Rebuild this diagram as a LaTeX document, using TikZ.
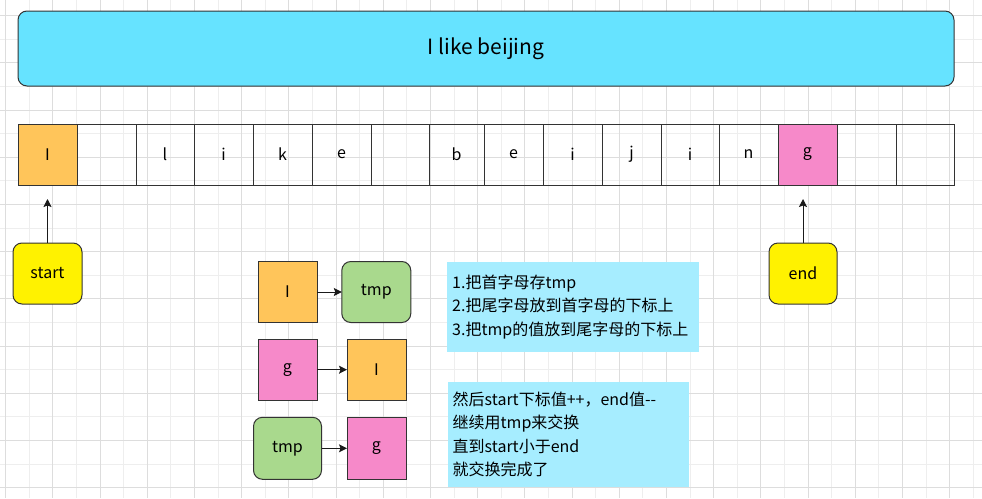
\documentclass[tikz,border=0pt]{standalone}
\usepackage{fontspec}
\setmainfont{Noto Sans CJK SC}
\usetikzlibrary{arrows.meta}

\definecolor{gridlight}{RGB}{238,238,238}
\definecolor{griddark}{RGB}{221,221,221}
\definecolor{linegray}{RGB}{51,51,51}
\definecolor{arrowdark}{RGB}{26,26,26}
\definecolor{bannerblue}{RGB}{102,227,255}
\definecolor{letterorange}{RGB}{255,197,90}
\definecolor{letterpink}{RGB}{246,137,201}
\definecolor{tmpgreen}{RGB}{169,217,141}
\definecolor{notecyan}{RGB}{166,237,255}

\begin{document}
\begin{tikzpicture}[x=1pt, y=-1pt,
  cell/.style={draw=linegray, line width=1pt, minimum width=59pt,
    minimum height=61pt, inner sep=0pt, outer sep=0pt,
    font=\fontsize{16}{20}\selectfont},
  rbox/.style={cell, rounded corners=9pt},
  notebox/.style={fill=notecyan, inner xsep=5pt, inner ysep=0pt,
    align=left, anchor=north west, font=\fontsize{16}{23.6}\selectfont},
  ptr/.style={draw=arrowdark, line width=1pt,
    -{Stealth[length=8pt,width=8pt,inset=1.5pt]}}]
\useasboundingbox (0,0) rectangle (982,498);
\fill[white] (0,0) rectangle (982,498);
% background grid
\foreach \i in {1,3,...,41}
  \draw[gridlight, line width=1pt] ({5.7+23.6*\i},0) -- ({5.7+23.6*\i},498);
\foreach \j in {1,3,...,19}
  \draw[gridlight, line width=1pt] (0,{15.6+23.6*\j}) -- (982,{15.6+23.6*\j});
\foreach \i in {0,2,...,40}
  \draw[griddark, line width=1pt] ({5.7+23.6*\i},0) -- ({5.7+23.6*\i},498);
\foreach \j in {0,2,...,20}
  \draw[griddark, line width=1pt] (0,{15.6+23.6*\j}) -- (982,{15.6+23.6*\j});

% sentence
\node[rbox, fill=bannerblue, minimum width=936pt, minimum height=75pt,
  font=\fontsize{21}{25}\selectfont] (banner) at (486,48.5) {I like beijing};

% the array
\node[cell, fill=letterorange] (c1) at (47.5,154.5) {I};
\node[cell] (c2) at (106.5,154.5) {};
\node[cell, minimum width=58pt] (c3) at (165,154.5) {l};
\node[cell] (c4) at (223.5,154.5) {i};
\node[cell] (c5) at (282.5,154.5) {k};
\node[cell] (c6) at (341.5,154.5) {e};
\node[cell, minimum width=58pt] (c7) at (400,154.5) {};
\node[cell, minimum width=55pt] (c8) at (456.5,154.5) {b};
\node[cell] (c9) at (513.5,154.5) {e};
\node[cell] (c10) at (572.5,154.5) {i};
\node[cell] (c11) at (631.5,154.5) {j};
\node[cell, minimum width=58pt] (c12) at (690,154.5) {i};
\node[cell] (c13) at (748.5,154.5) {n};
\node[cell, fill=letterpink] (c14) at (807.5,154.5) {g};
\node[cell] (c15) at (866.5,154.5) {};
\node[cell, minimum width=58pt] (c16) at (925,154.5) {};

% pointers
\node[rbox, fill=yellow, minimum width=69pt] (start) at (47.5,273.5) {start};
\node[rbox, fill=yellow, minimum width=68pt] (endbox) at (803,273.5) {end};
\draw[ptr, shorten >=14pt] (start) -- (c1);
\draw[ptr, shorten >=14pt] (endbox.north) -- (endbox.north |- c14.south);

% swapping
\node[cell, fill=letterorange] (first) at (287.5,292) {I};
\node[rbox, fill=tmpgreen, minimum width=69pt] (tmpa) at (376.3,292) {tmp};
\node[cell, fill=letterpink] (last) at (287.5,369.7) {g};
\node[cell, fill=letterorange] (firstb) at (376.5,369.7) {I};
\node[rbox, fill=tmpgreen, minimum width=68pt, minimum height=62pt] (tmpb) at (287.5,448.3) {tmp};
\node[cell, fill=letterpink, minimum height=62pt] (lastb) at (376.5,448.3) {g};
\draw[ptr] (first) -- (tmpa);
\draw[ptr] (last) -- (firstb);
\draw[ptr] (tmpb) -- (lastb);

% notes
\node[notebox, text width=242pt, minimum height=90pt, inner ysep=6pt] (steps) at (447,261.7)
{1.把首字母存tmp\\
2.把尾字母放到首字母的下标上\\
3.把tmp的值放到尾字母的下标上};
\node[notebox, text width=231.5pt, minimum height=105pt, inner ysep=6pt] (loop) at (447.5,381.7)
{然后start下标值++，end值-{}-\\
继续用tmp来交换\\
直到start小于end\\
就交换完成了};
\end{tikzpicture}
\end{document}
